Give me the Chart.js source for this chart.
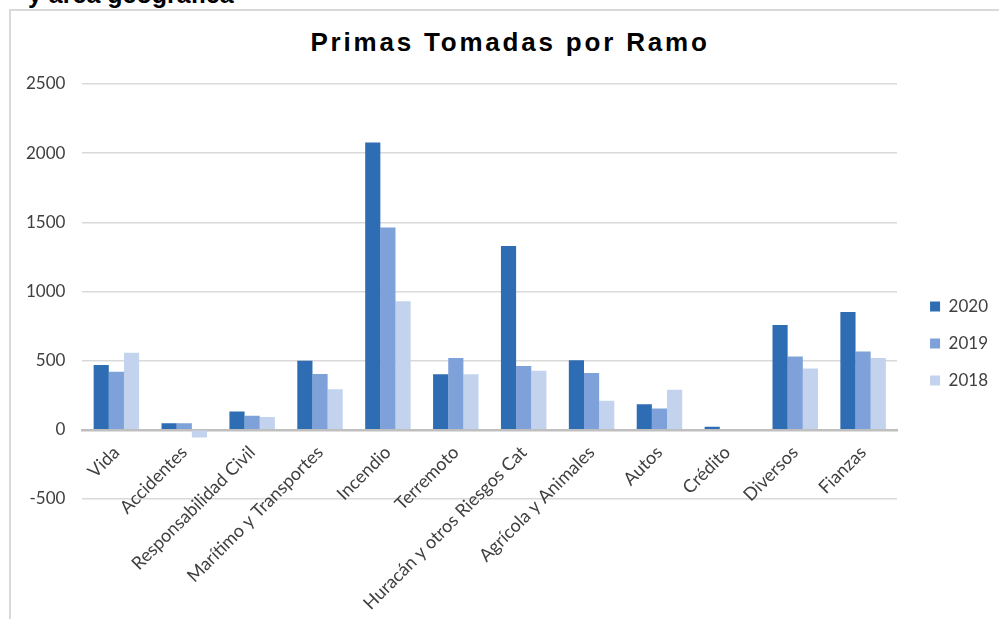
<!DOCTYPE html>
<html lang="es">
<head>
<meta charset="utf-8">
<title>Primas Tomadas por Ramo</title>
<script src="https://cdn.jsdelivr.net/npm/chart.js@4.4.1/dist/chart.umd.min.js"></script>
<style>
    html, body {
        margin: 0;
        padding: 0;
        background: #ffffff;
        overflow: hidden;
    }
    #pagina {
        position: relative;
        width: 999px;
        height: 619px;
    }
    #encabezado {
        position: absolute;
        left: 28px;
        top: -18px;
        font: bold 25px "Liberation Sans", Arial, sans-serif;
        line-height: 25px;
        color: #000000;
        white-space: nowrap;
    }
    #marco {
        position: absolute;
        left: 9px;
        top: 9px;
        width: 1000px;
        height: 620px;
        border-left: 2px solid #d9d9d9;
        border-top: 2px solid #d9d9d9;
    }
    #titulo {
        position: absolute;
        left: 10px;
        width: 1000px;
        top: 29px;
        text-align: center;
        font: bold 26px "Liberation Sans", Arial, sans-serif;
        line-height: 27px;
        letter-spacing: 2.8px;
        color: #000000;
    }
    #grafica {
        position: absolute;
        left: 0;
        top: 0;
        width: 999px;
        height: 619px;
    }
</style>
</head>
<body>
<div id="pagina">
    <div id="encabezado">y área geográfica</div>
    <div id="marco"></div>
    <div id="titulo">Primas Tomadas por Ramo</div>
    <div id="grafica"><canvas id="barras"></canvas></div>
</div>

<script>
/* =======================
   DATOS
======================= */

const RAMOS = [
    "Vida",
    "Accidentes",
    "Responsabilidad Civil",
    "Marítimo y Transportes",
    "Incendio",
    "Terremoto",
    "Huracán y otros Riesgos Cat",
    "Agrícola y Animales",
    "Autos",
    "Crédito",
    "Diversos",
    "Fianzas"
];

const PRIMAS_2020 = [469, 48, 132, 500, 2077, 402, 1329, 503, 185, 22, 758, 851];
const PRIMAS_2019 = [420, 48, 101, 404, 1463, 520, 462, 410, 154, 0, 530, 567];
const PRIMAS_2018 = [557, -55, 92, 293, 930, 402, 428, 210, 290, 0, 443, 519];

const ANIOS = ["2020", "2019", "2018"];
const COLORES = ["#2e6db4", "#7ea1d9", "#c3d3ee"];

const EJE_Y_MIN = -500;
const EJE_Y_MAX = 2500;
const EJE_Y_PASO = 500;

/* =======================
   GRAFICA
======================= */

const fuente = { family: "Lato, 'Open Sans', sans-serif", size: 17 };

const series = [PRIMAS_2020, PRIMAS_2019, PRIMAS_2018];

const datasets = series.map((valores, i) => ({
    label: ANIOS[i],
    data: valores,
    backgroundColor: COLORES[i],
    borderWidth: 0,
    categoryPercentage: 0.67,
    barPercentage: 1.0
}));

// la leyenda de Excel queda un poco más abajo y a la derecha
const moverLeyenda = {
    id: "moverLeyenda",
    afterLayout(chart, args, opts) {
        const ley = chart.legend;
        ley.left += opts.dx;
        ley.right += opts.dx;
        ley.top += opts.dy;
        ley.bottom += opts.dy;
    }
};

const ctx = document.getElementById("barras").getContext("2d");

new Chart(ctx, {
    type: "bar",
    data: {
        labels: RAMOS,
        datasets: datasets
    },
    plugins: [moverLeyenda],
    options: {
        responsive: true,
        maintainAspectRatio: false,
        animation: false,
        layout: {
            padding: { top: 84, left: 9, right: 14, bottom: 120 }
        },
        scales: {
            x: {
                position: { y: 0 },
                grid: { display: false },
                border: { color: "#bfbfbf", width: 2.5 },
                ticks: {
                    minRotation: 45,
                    maxRotation: 45,
                    autoSkip: false,
                    padding: 4,
                    color: "#404040",
                    font: { family: fuente.family, size: 18 }
                }
            },
            y: {
                min: EJE_Y_MIN,
                max: EJE_Y_MAX,
                grid: {
                    color: "#d9d9d9",
                    lineWidth: 1.5,
                    drawTicks: false
                },
                border: { display: false },
                ticks: {
                    stepSize: EJE_Y_PASO,
                    padding: 17,
                    color: "#404040",
                    font: fuente,
                    callback: (v) => String(v)
                }
            }
        },
        plugins: {
            title: { display: false },
            tooltip: { enabled: false },
            moverLeyenda: { dx: 13, dy: 52 },
            legend: {
                position: "right",
                labels: {
                    boxWidth: 10,
                    boxHeight: 10,
                    padding: 20,
                    color: "#404040",
                    font: fuente
                }
            }
        }
    }
});
</script>
</body>
</html>
